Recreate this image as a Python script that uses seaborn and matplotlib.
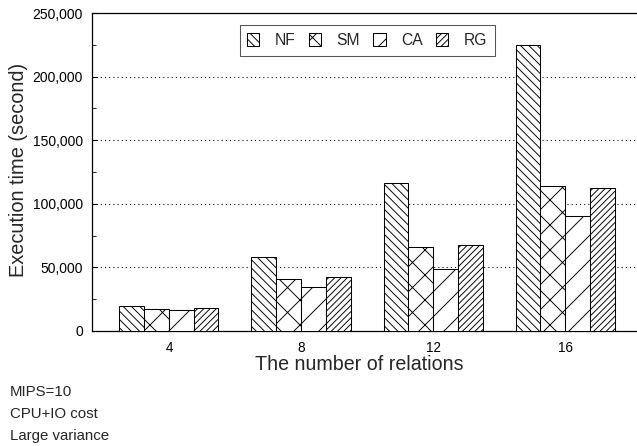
import matplotlib
matplotlib.use("Agg")
import matplotlib.pyplot as plt
from matplotlib.ticker import MultipleLocator, FuncFormatter
import seaborn as sns
import pandas as pd

# Data: execution time (seconds) per number of relations and method
relations = ["4", "8", "12", "16"]
methods = ["NF", "SM", "CA", "RG"]
nf_time = [19900, 57900, 116100, 224800]
sm_time = [17300, 40600, 65800, 114200]
ca_time = [16800, 34300, 49000, 90600]
rg_time = [18300, 42700, 67400, 112700]
hatches = ["\\" * 6, "x" * 2, "/" * 2, "/" * 8]

series = {"NF": nf_time, "SM": sm_time, "CA": ca_time, "RG": rg_time}
rows = [(r, m, series[m][i]) for m in methods for i, r in enumerate(relations)]
df = pd.DataFrame(rows, columns=["relations", "method", "time"])

sns.set_style("white")
plt.rcParams["font.family"] = ["Liberation Sans", "DejaVu Sans"]
plt.rcParams["hatch.linewidth"] = 0.45

DPI = 150
fig = plt.figure(figsize=(637 / DPI, 446 / DPI), dpi=DPI)
ax = fig.add_axes([92 / 637, 1 - 331 / 446, 1 - 92 / 637, (331 - 13) / 446])

sns.barplot(data=df, x="relations", y="time", hue="method",
            order=relations, hue_order=methods,
            palette=["white"] * 4, edgecolor="black", linewidth=0.5,
            width=0.75, gap=0, legend=False, ax=ax, zorder=3)

for cont, h in zip(ax.containers, hatches):
    for p in cont.patches:
        p.set_hatch(h)
        p.set_facecolor("white")
        p.set_edgecolor("black")

ax.set_ylim(0, 250000)
ax.set_xlim(-0.583, 3.545)
ax.yaxis.set_major_locator(MultipleLocator(50000))
ax.yaxis.set_minor_locator(MultipleLocator(25000))
ax.yaxis.set_major_formatter(FuncFormatter(lambda v, _: f"{int(v):,}"))

ax.grid(axis="y", which="major", color="black", linestyle=(0, (1, 3)),
        linewidth=0.5, zorder=0)
ax.set_axisbelow(True)

for side in ["left", "top", "bottom"]:
    ax.spines[side].set_visible(True)
    ax.spines[side].set_color("black")
    ax.spines[side].set_linewidth(0.6)
ax.spines["right"].set_visible(False)

ax.tick_params(axis="y", which="major", direction="in", length=2.6, width=0.5,
               left=True, labelsize=6.7, pad=4.3, colors="black")
ax.tick_params(axis="y", which="minor", direction="in", length=2.0, width=0.5,
               left=True)
ax.tick_params(axis="x", which="both", length=0, labelsize=6.5, pad=5.0,
               colors="black")

ax.set_xlabel("The number of relations", fontsize=9.4)
ax.set_ylabel("Execution time (second)", fontsize=9.6)
ax.xaxis.set_label_coords(0.491, -0.104)
ax.xaxis.label.set_va("center")
ax.yaxis.set_label_coords(-0.134, 0.506)
ax.yaxis.label.set_va("center")

leg = ax.legend(ax.containers, methods, ncol=4, loc="upper center",
                bbox_to_anchor=(0.505, 0.962), fontsize=7.5,
                handlelength=0.77, handleheight=0.9, handletextpad=1.0,
                columnspacing=0.85, borderpad=0.5, borderaxespad=0,
                fancybox=False, frameon=True, framealpha=1,
                edgecolor="#555555")
leg.get_frame().set_linewidth(0.5)

notes = ["MIPS=10", "CPU+IO cost", "Large variance"]
for i, t in enumerate(notes):
    fig.text(10 / 637, 1 - (392 + 22 * i) / 446, t, fontsize=7.2,
             va="center", ha="left")

fig.savefig("out.png", dpi=DPI)
